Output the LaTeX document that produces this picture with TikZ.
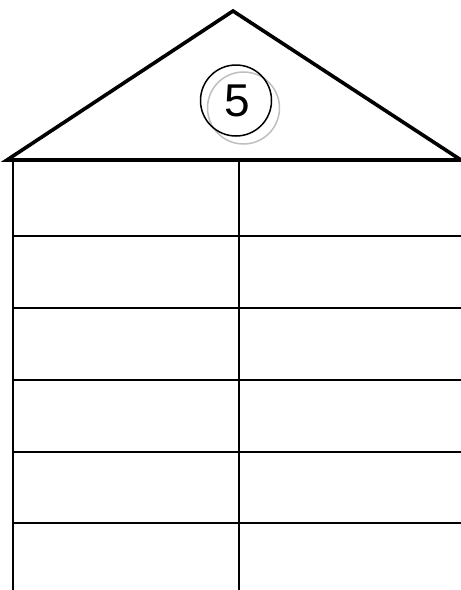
\documentclass[tikz,border=0pt]{standalone}
\usepackage{fontspec}
\setmainfont{Liberation Sans}
\begin{document}
\begin{tikzpicture}[x=1pt,y=-1pt,
  roof/.style={line width=3.6pt,line join=miter},
  grid/.style={line width=1.6pt},
  ringblack/.style={draw=black,line width=1.5pt},
  ringgray/.style={draw=black!25,line width=1.5pt}]
\useasboundingbox (0,0) rectangle (461,590);
% roof
\coordinate (apex) at (233,11);
\coordinate (bl) at (7,160);
\coordinate (br) at (461,160);
\draw[roof] (bl) -- (apex) -- (br) -- cycle;
% grid
\coordinate (lt) at (13,161);
\coordinate (lb) at (13,590);
\coordinate (mt) at (239,161);
\coordinate (mb) at (239,590);
\draw[grid] (lt) -- (lb);
\draw[grid] (mt) -- (mb);
\foreach \yy in {236,308,380,452,523}{
  \draw[grid] (13,\yy) -- (461,\yy);
}
% badge
\draw[ringgray] (243.5,108) circle (36);
\draw[ringblack] (236,100.5) circle (35.5);
\node[inner sep=0pt,font=\fontsize{46}{46}\selectfont] (five) at (237,101) {5};
\end{tikzpicture}
\end{document}
